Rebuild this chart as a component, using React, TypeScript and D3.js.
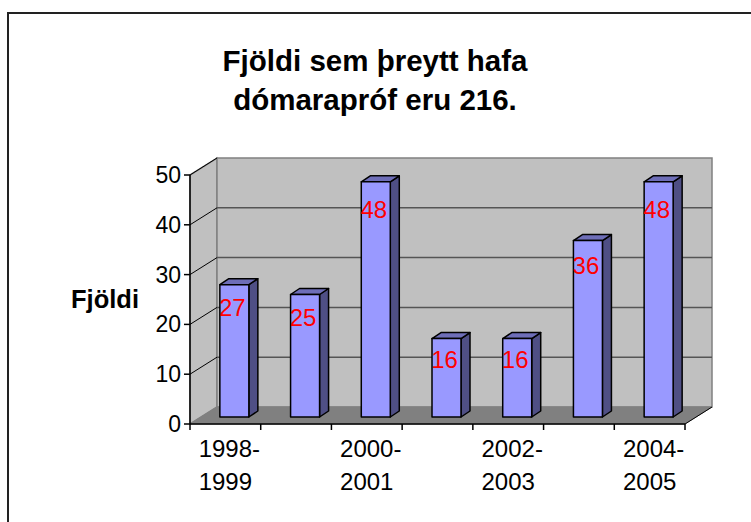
import React from "react";
import * as d3 from "d3";

const categories = [
  "1998-1999",
  "1999-2000",
  "2000-2001",
  "2001-2002",
  "2002-2003",
  "2003-2004",
  "2004-2005",
];
const values = [27, 25, 48, 16, 16, 36, 48];
const yTicks = [0, 10, 20, 30, 40, 50];
const titleLines = ["Fjöldi sem þreytt hafa", "dómarapróf eru 216."];
const yTitle = "Fjöldi";

const font = "'Liberation Sans', Arial, sans-serif";

const App: React.FC = () => {
  const width = 751;
  const height = 522;

  // front plane of the 3d box
  const x = d3.scaleBand<string>().domain(categories).range([190, 685]).padding(0);
  const y = d3.scaleLinear().domain([0, 50]).range([424, 175]);
  // depth of the walls
  const DX = 27;
  const DY = -17;
  // bars sit a little into the box
  const yBar = d3.scaleLinear().domain([0, 50]).range([417, 172]);
  const yLabel = d3.scaleLinear().domain([0, 50]).range([434, 200.5]);
  const BOX = 9;
  const BDX = 9;
  const BDY = -6;
  const barW = 29;

  const x0 = x.range()[0];
  const x1 = x.range()[1];
  const yb = y(0);
  const yt = y(50);

  const pts = (p: [number, number][]) => p.map((d) => d.join(",")).join(" ");

  return (
    <svg
      width={width}
      height={height}
      style={{ position: "absolute", left: 0, top: 0, background: "#fff" }}
      fontFamily={font}
    >
      <rect x={8} y={13} width={800} height={600} fill="#fff" stroke="#222" strokeWidth={2} />

      {titleLines.map((t, i) => (
        <text
          key={t}
          x={375}
          y={71 + i * 39}
          textAnchor="middle"
          fontSize={29.5}
          fontWeight="bold"
        >
          {t}
        </text>
      ))}

      {/* left wall */}
      <polygon
        points={pts([
          [x0, yb],
          [x0, yt],
          [x0 + DX, yt + DY],
          [x0 + DX, yb + DY],
        ])}
        fill="#c0c0c0"
        stroke="#808080"
        strokeWidth={1.5}
      />
      {/* back wall */}
      <polygon
        points={pts([
          [x0 + DX, yb + DY],
          [x0 + DX, yt + DY],
          [x1 + DX, yt + DY],
          [x1 + DX, yb + DY],
        ])}
        fill="#c0c0c0"
        stroke="#808080"
        strokeWidth={1.5}
      />
      {/* floor */}
      <polygon
        points={pts([
          [x0, yb],
          [x0 + DX, yb + DY],
          [x1 + DX, yb + DY],
          [x1, yb],
        ])}
        fill="#808080"
        stroke="#808080"
        strokeWidth={1}
      />

      {/* gridlines */}
      {yTicks
        .filter((v) => v > 0)
        .map((v) => (
          <g key={v}>
            <line
              x1={x0}
              y1={y(v)}
              x2={x0 + DX}
              y2={y(v) + DY}
              stroke="#000"
              strokeWidth={1}
            />
            {v < 50 && (
              <line
                x1={x0 + DX}
                y1={y(v) + DY}
                x2={x1 + DX}
                y2={y(v) + DY}
                stroke="#555"
                strokeWidth={1.5}
              />
            )}
          </g>
        ))}

      {/* bars */}
      {categories.map((c, i) => {
        const cx = (x(c) ?? 0) + x.bandwidth() / 2 + BOX;
        const l = cx - barW / 2;
        const r = cx + barW / 2;
        const top = yBar(values[i]);
        const bot = yBar(0);
        return (
          <g key={c} stroke="#000" strokeWidth={1.5} strokeLinejoin="round">
            <polygon
              points={pts([
                [r, bot],
                [r + BDX, bot + BDY],
                [r + BDX, top + BDY],
                [r, top],
              ])}
              fill="#4f4f85"
            />
            <polygon
              points={pts([
                [l, top],
                [l + BDX, top + BDY],
                [r + BDX, top + BDY],
                [r, top],
              ])}
              fill="#6e6eb8"
            />
            <rect x={l} y={top} width={barW} height={bot - top} fill="#9999ff" />
          </g>
        );
      })}

      {/* data labels */}
      {categories.map((c, i) => (
        <text
          key={c}
          x={(x(c) ?? 0) + x.bandwidth() / 2 + BOX - 2}
          y={yLabel(values[i])}
          dy="0.35em"
          textAnchor="middle"
          fontSize={24}
          fill="#ff0000"
        >
          {values[i]}
        </text>
      ))}

      {/* y axis */}
      <line x1={x0} y1={yb} x2={x0} y2={yt} stroke="#000" strokeWidth={1.5} />
      {yTicks.map((v) => (
        <g key={v}>
          <line x1={x0 - 6} y1={y(v)} x2={x0} y2={y(v)} stroke="#000" strokeWidth={1.5} />
          <text x={x0 - 9} y={y(v)} dy="0.35em" textAnchor="end" fontSize={23}>
            {v}
          </text>
        </g>
      ))}
      <text x={105} y={299} dy="0.35em" textAnchor="middle" fontSize={25.5} fontWeight="bold">
        {yTitle}
      </text>

      {/* x axis */}
      <line x1={x0} y1={yb} x2={x1} y2={yb} stroke="#000" strokeWidth={1.5} />
      <line x1={x1} y1={yb} x2={x1 + DX} y2={yb + DY} stroke="#000" strokeWidth={1} />
      {[...categories.map((c) => x(c) ?? 0), x1].map((tx, i) => (
        <line key={i} x1={tx} y1={yb} x2={tx} y2={yb + 6} stroke="#000" strokeWidth={1.5} />
      ))}
      {categories.map((c, i) => {
        if (i % 2 !== 0) return null;
        const [a, b] = c.split("-");
        const cx = (x(c) ?? 0) + x.bandwidth() / 2;
        return (
          <text key={c} x={cx} textAnchor="middle" fontSize={24}>
            <tspan x={cx + 4} y={457}>
              {a}-
            </tspan>
            <tspan x={cx} y={490}>
              {b}
            </tspan>
          </text>
        );
      })}
    </svg>
  );
};

export default App;
